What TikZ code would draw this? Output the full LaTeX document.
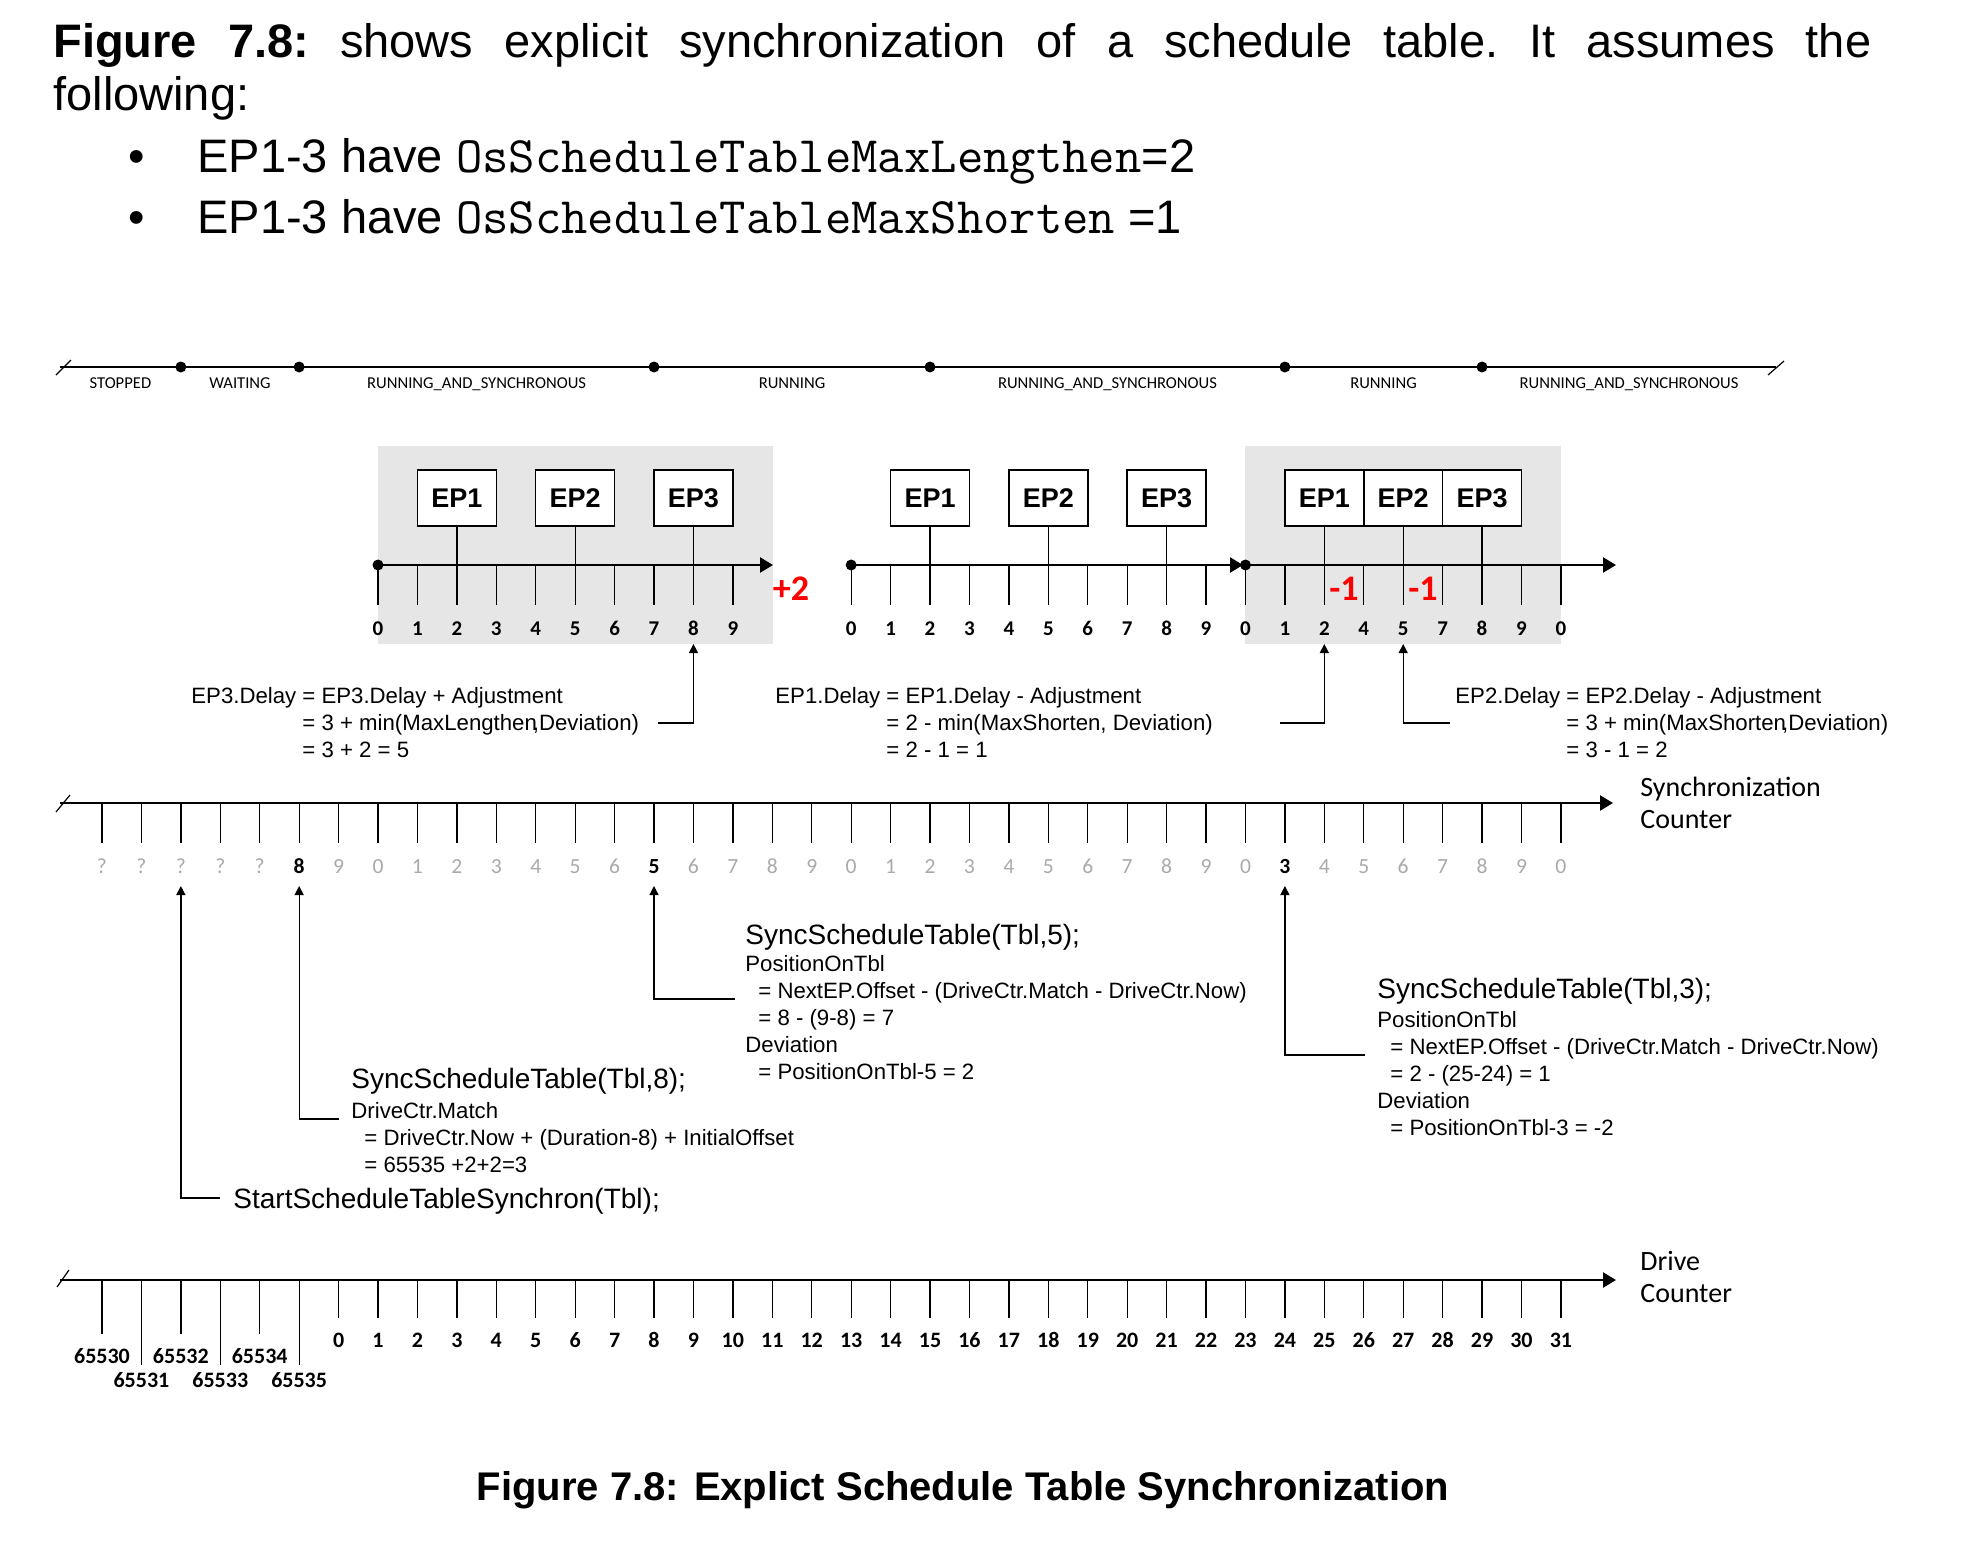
\documentclass[tikz,border=0pt]{standalone}
\usepackage{fontspec}
\setmainfont{Liberation Sans}
\newfontfamily\calfont{Carlito}
\usetikzlibrary{arrows.meta}
\definecolor{boxgray}{RGB}{230,230,230}
\definecolor{ctrgray}{RGB}{170,170,170}

\begin{document}
\begin{tikzpicture}[x=0.5pt, y=-0.5pt,
    axisline/.style = {line width=1.2pt, -{Triangle[length=6.5pt, width=7.5pt]}},
    tickline/.style = {line width=0.65pt},
    pointer/.style = {line width=0.65pt, -{Triangle[length=4.5pt, width=4.5pt]}},
    epbox/.style = {draw, line width=0.75pt, fill=white, minimum width=39.43pt, minimum height=28pt, inner sep=0pt, font=\bfseries\fontsize{13.5}{16}\selectfont},
    statelabel/.style = {anchor=base, yshift=-10.5pt, inner sep=0pt, font=\calfont\fontsize{8.3}{10}\selectfont},
    tlabel/.style = {anchor=base, inner sep=0pt, font=\calfont\bfseries\fontsize{10.5}{12}\selectfont},
    ctrlabel/.style = {anchor=base, inner sep=0pt, text=ctrgray, font=\calfont\fontsize{10.8}{12}\selectfont},
    ctrhot/.style = {anchor=base, inner sep=0pt, font=\calfont\bfseries\fontsize{10.8}{12}\selectfont},
    drvlabel/.style = {anchor=base, inner sep=0pt, font=\calfont\bfseries\fontsize{11}{13}\selectfont},
    adjlabel/.style = {anchor=base, inner sep=0pt, text=red, font=\calfont\bfseries\fontsize{18}{20}\selectfont},
    note/.style = {anchor=base west, inner sep=0pt, font=\fontsize{11.1}{13.5}\selectfont},
    callname/.style = {anchor=base west, inner sep=0pt, font=\fontsize{14}{16}\selectfont},
    axisname/.style = {anchor=base west, inner sep=0pt, font=\calfont\fontsize{14}{16}\selectfont},
    heading/.style = {anchor=base west, inner sep=0pt, font=\fontsize{23.5}{28}\selectfont}]

  \fill[white] (0,0) rectangle (1972,1543);
  \useasboundingbox (0,0) rectangle (1972,1543);

  % heading text
  \node[heading] (h1) at (53,57) {\hbox to 909pt{\textbf{Figure}\hfill\textbf{7.8:}\hfill shows\hfill explicit\hfill synchronization\hfill of\hfill a\hfill schedule\hfill table.\hfill It\hfill assumes\hfill the}};
  \node[heading] (h2) at (53,110) {following:};
  \node[heading] (bul1) at (128,172) {\textbullet};
  \node[heading] (h3) at (197,172) {EP1-3 have {\ttfamily\fontsize{25.6}{28}\selectfont OsScheduleTableMaxLengthen}=2};
  \node[heading] (bul2) at (128,233) {\textbullet};
  \node[heading] (h4) at (197,233) {EP1-3 have {\ttfamily\fontsize{25.6}{28}\selectfont OsScheduleTableMaxShorten} =1};

  % grid points
  \foreach \i in {0,...,37} {
    \coordinate (p\i) at ({102+39.43*\i},565);
    \coordinate (g\i) at ({102+39.43*\i},644);
    \coordinate (s\i) at ({102+39.43*\i},886);
  }

  % state line
  \coordinate (d0) at (60,367);
  \coordinate (d1) at (p2 |- 0,367);
  \coordinate (d2) at (p5 |- 0,367);
  \coordinate (d3) at (p14 |- 0,367);
  \coordinate (d4) at (p21 |- 0,367);
  \coordinate (d5) at (p30 |- 0,367);
  \coordinate (d6) at (p35 |- 0,367);
  \coordinate (d7) at (1776,367);
  \draw[line width=1pt] (d0) -- (d7);
  \draw[line width=0.6pt] (56,375) -- (71,360);
  \draw[line width=0.6pt] (1768,375) -- (1784,361);
  \foreach \a/\b/\t [count=\n] in {d0/d1/STOPPED, d1/d2/WAITING, d2/d3/RUNNING\_AND\_SYNCHRONOUS, d3/d4/RUNNING, d4/d5/RUNNING\_AND\_SYNCHRONOUS, d5/d6/RUNNING, d6/d7/RUNNING\_AND\_SYNCHRONOUS}
    \path (\a) -- node[statelabel] (st\n) {\t} (\b);
  \foreach \d in {d1,d2,d3,d4,d5,d6}
    \fill (\d) circle[radius=2.75pt];

  % schedule table runs
  \fill[boxgray] (378,446) rectangle (773,644);
  \fill[boxgray] (1245,446) rectangle (1561,644);
  \coordinate (e1) at (773,565);
  \coordinate (e2) at (1243,565);
  \coordinate (e3) at (1616,565);
  \foreach \i in {7,...,16}
    \draw[tickline] (p\i) -- ++(0,40);
  \foreach \i in {19,...,37}
    \draw[tickline] (p\i) -- ++(0,40);
  \draw[axisline] (p7) -- (e1);
  \draw[axisline] (p19) -- (e2);
  \draw[axisline] (p29) -- (e3);
  \foreach \d in {p7,p19,p29}
    \fill (\d) circle[radius=2.75pt];
  \foreach \l [count=\n from 7] in {0,...,9}
    \node[tlabel] (ta\n) at (p\n |- 0,635) {\l};
  \foreach \l [count=\n from 19] in {0,...,9}
    \node[tlabel] (tb\n) at (p\n |- 0,635) {\l};
  \foreach \l [count=\n from 29] in {0,1,2,4,5,7,8,9,0}
    \node[tlabel] (tc\n) at (p\n |- 0,635) {\l};

  \node[epbox] (a1) at (p9 |- 0,498) {EP1};
  \node[epbox] (a2) at (p12 |- 0,498) {EP2};
  \node[epbox] (a3) at (p15 |- 0,498) {EP3};
  \node[epbox] (b1) at (p21 |- 0,498) {EP1};
  \node[epbox] (b2) at (p24 |- 0,498) {EP2};
  \node[epbox] (b3) at (p27 |- 0,498) {EP3};
  \node[epbox] (c1) at (p31 |- 0,498) {EP1};
  \node[epbox] (c2) at (p33 |- 0,498) {EP2};
  \node[epbox] (c3) at (p35 |- 0,498) {EP3};
  \draw[tickline] (a1) -- (p9);
  \draw[tickline] (a2) -- (p12);
  \draw[tickline] (a3) -- (p15);
  \draw[tickline] (b1) -- (p21);
  \draw[tickline] (b2) -- (p24);
  \draw[tickline] (b3) -- (p27);
  \draw[tickline] (c1) -- (p31);
  \draw[tickline] (c2) -- (p33);
  \draw[tickline] (c3) -- (p35);

  \node[adjlabel] (plus) at (791,600) {+2};
  \node[adjlabel] (minus1) at (1344,600) {-1};
  \node[adjlabel] (minus2) at (1423,600) {-1};

  % delay adjustments
  \node[note] (n1) at (191,703) {\begin{tabular}[t]{@{}l@{ }l@{}}EP3.Delay & = EP3.Delay + Adjustment\\ & = 3 + min(MaxLengthen\kern-2pt,Deviation)\\ & = 3 + 2 = 5\end{tabular}};
  \node[note] (n2) at (775,703) {\begin{tabular}[t]{@{}l@{ }l@{}}EP1.Delay & = EP1.Delay - Adjustment\\ & = 2 - min(MaxShorten, Deviation)\\ & = 2 - 1 = 1\end{tabular}};
  \node[note] (n3) at (1455,703) {\begin{tabular}[t]{@{}l@{ }l@{}}EP2.Delay & = EP2.Delay - Adjustment\\ & = 3 + min(MaxShorten\kern-2pt,Deviation)\\ & = 3 - 1 = 2\end{tabular}};
  \coordinate (k3) at (658,723);
  \coordinate (k5) at (1280,723);
  \coordinate (k7) at (1450,723);
  \draw[pointer] (k3) -| (g15);
  \draw[pointer] (k5) -| (g31);
  \draw[pointer] (k7) -| (g33);

  % synchronization counter
  \coordinate (sa) at (60,803);
  \coordinate (sb) at (1613,803);
  \draw[axisline] (sa) -- (sb);
  \draw[line width=0.6pt] (56,812) -- (70,795);
  \foreach \i in {0,...,37}
    \draw[tickline] ({102+39.43*\i},803) -- ++(0,40);
  \foreach \l/\sty [count=\n from 0] in {?/ctrlabel,?/ctrlabel,?/ctrlabel,?/ctrlabel,?/ctrlabel,8/ctrhot,9/ctrlabel,0/ctrlabel,1/ctrlabel,2/ctrlabel,3/ctrlabel,4/ctrlabel,5/ctrlabel,6/ctrlabel,5/ctrhot,6/ctrlabel,7/ctrlabel,8/ctrlabel,9/ctrlabel,0/ctrlabel,1/ctrlabel,2/ctrlabel,3/ctrlabel,4/ctrlabel,5/ctrlabel,6/ctrlabel,7/ctrlabel,8/ctrlabel,9/ctrlabel,0/ctrlabel,3/ctrhot,4/ctrlabel,5/ctrlabel,6/ctrlabel,7/ctrlabel,8/ctrlabel,9/ctrlabel,0/ctrlabel}
    \node[\sty] (sc\n) at ({102+39.43*\n},873) {\l};
  \node[axisname] (synname) at (1640,796) {\begin{tabular}[t]{@{}l@{}}Synchronization\\Counter\end{tabular}};

  % service calls
  \node[callname] (call1) at (233,1208) {StartScheduleTableSynchron(Tbl);};
  \node[callname] (call2) at (351,1088) {SyncScheduleTable(Tbl,8);};
  \node[note] (body2) at (351,1118) {\begin{tabular}[t]{@{}l@{}}DriveCtr.Match\\ \hspace*{6.5pt}= DriveCtr.Now + (Duration-8) + InitialOffset\\ \hspace*{6.5pt}= 65535 +2+2=3\end{tabular}};
  \node[callname] (call3) at (745,944) {SyncScheduleTable(Tbl,5);};
  \node[note] (body3) at (745,971) {\begin{tabular}[t]{@{}l@{}}PositionOnTbl\\ \hspace*{6.5pt}= NextEP.Offset - (DriveCtr.Match - DriveCtr.Now)\\ \hspace*{6.5pt}= 8 - (9-8) = 7\\Deviation\\ \hspace*{6.5pt}= PositionOnTbl-5 = 2\end{tabular}};
  \node[callname] (call4) at (1377,998) {SyncScheduleTable(Tbl,3);};
  \node[note] (body4) at (1377,1027) {\begin{tabular}[t]{@{}l@{}}PositionOnTbl\\ \hspace*{6.5pt}= NextEP.Offset - (DriveCtr.Match - DriveCtr.Now)\\ \hspace*{6.5pt}= 2 - (25-24) = 1\\Deviation\\ \hspace*{6.5pt}= PositionOnTbl-3 = -2\end{tabular}};
  \coordinate (k1) at (220,1198);
  \coordinate (k2) at (339,1119);
  \coordinate (k4) at (735,999);
  \coordinate (k6) at (1365,1055);
  \draw[pointer] (k1) -| (s2);
  \draw[pointer] (k2) -| (s5);
  \draw[pointer] (k4) -| (s14);
  \draw[pointer] (k6) -| (s30);

  % drive counter
  \coordinate (da) at (60,1280);
  \coordinate (db) at (1616,1280);
  \draw[axisline] (da) -- (db);
  \draw[line width=0.6pt] (57,1287) -- (69,1270);
  \foreach \i in {0,2,4}
    \draw[tickline] ({102+39.43*\i},1280) -- ++(0,54);
  \foreach \i in {1,3,5}
    \draw[tickline] ({102+39.43*\i},1280) -- ++(0,85);
  \foreach \i in {6,...,37}
    \draw[tickline] ({102+39.43*\i},1280) -- ++(0,38);
  \foreach \n/\l in {0/65530,2/65532,4/65534}
    \node[drvlabel] (dw\n) at ({102+39.43*\n},1363) {\l};
  \foreach \n/\l in {1/65531,3/65533,5/65535}
    \node[drvlabel] (dw\n) at ({102+39.43*\n},1387) {\l};
  \foreach \l [count=\n from 6] in {0,...,31}
    \node[drvlabel] (dv\n) at ({102+39.43*\n},1347) {\l};
  \node[axisname] (drvname) at (1640,1270) {\begin{tabular}[t]{@{}l@{}}Drive\\Counter\end{tabular}};

  % caption
  \node[anchor=base, inner sep=0pt, font=\bfseries\fontsize{20}{24}\selectfont] (cap) at (963,1500) {Figure 7.8: Explict Schedule Table Synchronization};
\end{tikzpicture}
\end{document}
